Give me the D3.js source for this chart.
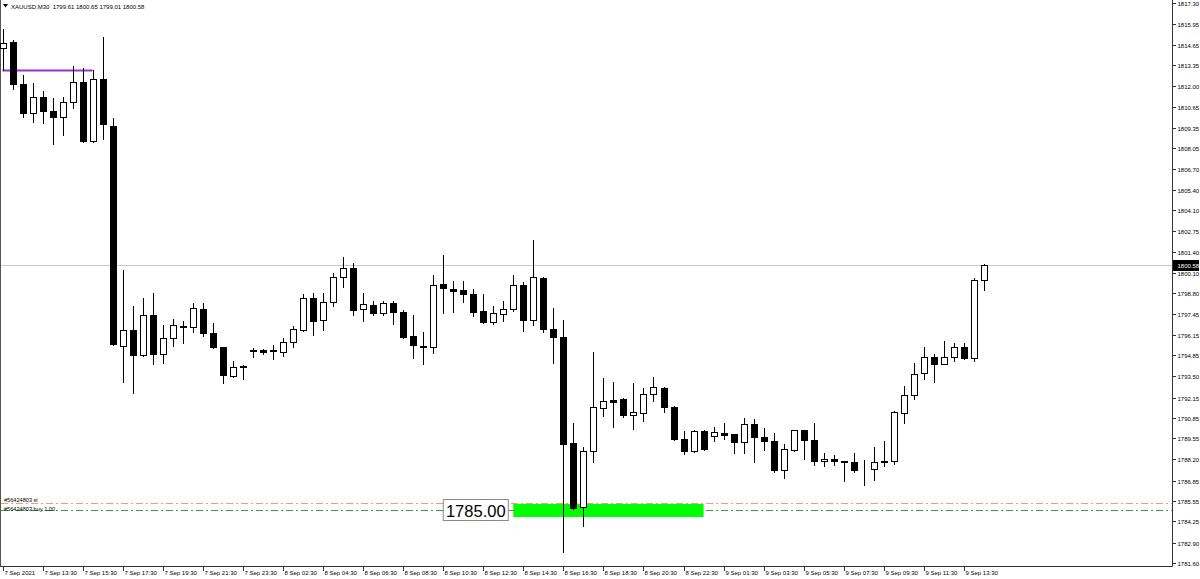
<!DOCTYPE html>
<html>
<head>
<meta charset="utf-8">
<script src="https://cdn.jsdelivr.net/npm/d3@7"></script>
<style>
  html, body { margin: 0; padding: 0; background: #fff; }
  svg { display: block; }
  text { font-family: "Liberation Sans", Arial, sans-serif; }
</style>
</head>
<body>
<div id="chart"></div>
<script>
const W = 1200, H = 579

// XAUUSD M30 bars, 7 Sep 2021 11:30 .. 9 Sep 2021 14:30
const OPEN = [1814.43,1814.81,1812.14,1810.29,1811.31,1810.41,1810.03,1810.99,1812.26,1808.50,
  1812.45,1809.46,1795.43,1796.45,1794.86,1797.41,1794.92,1795.94,1796.71,1796.64,
  1797.79,1796.26,1795.37,1793.52,1794.11,1795.14,1795.18,1795.14,1795.05,1795.69,
  1796.45,1798.49,1797.09,1798.24,1799.83,1800.41,1797.79,1798.05,1797.54,1798.17,
  1797.60,1796.07,1795.46,1795.37,1799.39,1799.07,1799.00,1798.75,1797.66,1796.96,
  1797.47,1797.79,1799.32,1797.09,1799.77,1796.52,1796.01,1789.25,1785.17,1788.74,
  1791.48,1791.96,1792.05,1791.03,1791.16,1792.37,1792.76,1791.54,1789.50,1788.74,
  1790.01,1789.70,1789.89,1789.82,1789.31,1790.46,1789.63,1789.38,1787.53,1788.80,
  1790.08,1789.44,1788.10,1788.23,1788.10,1788.04,1787.53,1787.59,1788.07,1788.10,
  1791.16,1792.28,1793.71,1794.73,1794.29,1794.73,1795.37,1794.67,1799.61]
const HIGH = [1815.64,1814.94,1812.71,1812.20,1811.69,1811.24,1811.31,1813.28,1813.16,1813.03,
  1815.13,1809.97,1800.28,1797.98,1798.49,1798.81,1796.77,1797.15,1797.03,1798.17,
  1798.17,1796.90,1795.40,1794.48,1794.22,1795.31,1795.24,1795.50,1795.94,1796.71,
  1798.75,1798.81,1798.81,1800.09,1801.11,1800.72,1798.81,1798.30,1798.30,1798.30,
  1797.73,1797.41,1796.33,1799.96,1801.23,1799.58,1799.58,1799.07,1798.75,1797.98,
  1798.30,1799.96,1799.51,1802.19,1799.83,1797.86,1797.09,1790.52,1788.99,1795.05,
  1793.39,1793.14,1792.09,1793.07,1792.76,1793.46,1792.82,1791.61,1790.01,1790.05,
  1790.05,1790.27,1790.52,1789.85,1790.84,1790.78,1790.21,1789.89,1789.19,1790.11,
  1790.11,1790.52,1788.61,1788.48,1788.12,1788.61,1788.17,1788.99,1789.38,1791.26,
  1792.88,1794.35,1795.37,1794.92,1795.75,1795.62,1795.62,1799.77,1800.65]
const LOW = [1813.03,1811.82,1810.03,1809.71,1809.65,1808.31,1808.88,1810.61,1808.44,1808.44,
  1808.63,1795.50,1793.14,1792.44,1794.80,1794.29,1794.35,1795.43,1795.62,1796.33,
  1796.07,1795.31,1793.07,1793.46,1793.33,1794.73,1794.92,1794.60,1794.80,1795.37,
  1796.39,1796.13,1796.45,1797.98,1799.19,1797.41,1797.03,1797.41,1797.41,1796.84,
  1795.94,1794.67,1794.29,1794.99,1797.54,1797.60,1798.24,1797.35,1796.90,1796.84,
  1797.03,1797.66,1796.39,1796.77,1796.33,1794.35,1782.30,1785.04,1783.96,1788.04,
  1790.97,1790.27,1790.91,1790.14,1790.65,1791.93,1791.23,1789.44,1788.55,1788.68,
  1788.80,1789.38,1789.50,1788.61,1788.61,1788.04,1788.80,1787.40,1787.02,1788.74,
  1788.23,1787.85,1787.78,1787.85,1786.83,1787.40,1786.57,1786.89,1787.78,1787.91,
  1790.52,1792.05,1793.33,1793.14,1794.26,1794.48,1794.60,1794.48,1799.01]
const CLOSE = [1814.75,1812.14,1810.29,1811.31,1810.41,1810.03,1810.99,1812.26,1808.50,1812.45,
  1809.59,1795.56,1796.45,1794.86,1797.41,1794.92,1795.94,1796.77,1796.64,1797.86,
  1796.26,1795.37,1793.58,1794.09,1794.13,1795.16,1795.05,1795.15,1795.69,1796.52,
  1798.49,1797.03,1798.24,1799.83,1800.41,1797.73,1798.11,1797.54,1798.17,1797.60,
  1796.01,1795.50,1795.37,1799.32,1799.13,1798.97,1798.75,1797.60,1796.96,1797.54,
  1797.79,1799.32,1797.09,1799.83,1796.52,1796.01,1789.19,1785.11,1788.74,1791.54,
  1791.93,1791.89,1791.03,1791.23,1792.37,1792.82,1791.54,1789.50,1788.74,1790.01,
  1788.87,1789.95,1789.76,1789.31,1790.46,1789.63,1789.38,1787.53,1788.87,1790.08,
  1789.44,1788.10,1788.23,1788.10,1788.05,1787.53,1787.55,1788.04,1788.10,1791.23,
  1792.31,1793.65,1794.73,1794.29,1794.73,1795.37,1794.67,1799.62,1800.58]

const PRICE_TICKS = [1817.30,1815.95,1814.65,1813.35,1812.00,1810.65,1809.35,1808.05,1806.70,
  1805.40,1804.10,1802.75,1801.40,1800.10,1798.80,1797.45,1796.15,1794.85,1793.50,1792.15,
  1790.85,1789.55,1788.20,1786.85,1785.55,1784.25,1782.90,1781.60]

const TIME_LABELS = ['7 Sep 2021','7 Sep 13:30','7 Sep 15:30','7 Sep 17:30','7 Sep 19:30',
  '7 Sep 21:30','7 Sep 23:30','8 Sep 02:30','8 Sep 04:30','8 Sep 06:30','8 Sep 08:30',
  '8 Sep 10:30','8 Sep 12:30','8 Sep 14:30','8 Sep 16:30','8 Sep 18:30','8 Sep 20:30',
  '8 Sep 22:30','9 Sep 01:30','9 Sep 03:30','9 Sep 05:30','9 Sep 07:30','9 Sep 09:30',
  '9 Sep 11:30','9 Sep 13:30']
const TIME_TICK_BARS = [0,4,8,12,16,20,24,28,32,36,40,44,48,52,56,60,64,68,72,76,80,84,88,92,96]

const TITLE = 'XAUUSD,M30  1799.61 1800.65 1799.01 1800.58'
const BID = 1800.58
const TREND_LEVEL = 1813.00, TREND_BARS = [0, 9]
const SL_LEVEL = 1785.42, SL_LABEL = '#56424803 sl'
const BUY_LEVEL = 1785.00, BUY_LABEL = '#56424803 buy 1.00'
const ZONE_TOP = 1785.36, ZONE_BOTTOM = 1784.53, ZONE_BARS = [51, 70]
const PRICE_BOX = '1785.00'

const bars = OPEN.map((o, i) => ({ i, o, h: HIGH[i], l: LOW[i], c: CLOSE[i] }))

const plotRight = 1172, plotBottom = 566

const x = d3.scaleLinear().domain([0, 98]).range([2.5, 984])
const y = d3.scaleLinear().domain([1781.60, 1817.30]).range([563, 3])
const px = v => Math.round(x(v)) + 0.5

const svg = d3.select('#chart').append('svg')
    .attr('width', W).attr('height', H)

// frame
svg.append('line').attr('x1', 0.5).attr('x2', 0.5).attr('y1', 0).attr('y2', plotBottom)
    .attr('stroke', '#555')
svg.append('line').attr('x1', 0).attr('x2', plotRight + 0.5).attr('y1', plotBottom + 0.5).attr('y2', plotBottom + 0.5)
    .attr('stroke', '#333')
svg.append('line').attr('x1', plotRight + 0.5).attr('x2', plotRight + 0.5).attr('y1', 0).attr('y2', plotBottom + 0.5)
    .attr('stroke', '#333')

// bid line
svg.append('line')
    .attr('x1', 1).attr('x2', plotRight)
    .attr('y1', Math.round(y(BID)) + 0.5).attr('y2', Math.round(y(BID)) + 0.5)
    .attr('stroke', '#c8c8c8')

// order lines
svg.append('line')
    .attr('x1', 1).attr('x2', plotRight)
    .attr('y1', Math.round(y(SL_LEVEL)) + 0.5).attr('y2', Math.round(y(SL_LEVEL)) + 0.5)
    .attr('stroke', '#fa9870').attr('stroke-dasharray', '7,3,2,3')
svg.append('line')
    .attr('x1', 1).attr('x2', plotRight)
    .attr('y1', Math.round(y(BUY_LEVEL)) + 0.5).attr('y2', Math.round(y(BUY_LEVEL)) + 0.5)
    .attr('stroke', '#3d9a3d').attr('stroke-dasharray', '7,3,2,3')

svg.append('text').attr('x', 4).attr('y', Math.round(y(SL_LEVEL)) - 1.5)
    .attr('font-size', 5.6).attr('fill', '#000').text(SL_LABEL)
svg.append('text').attr('x', 4).attr('y', Math.round(y(BUY_LEVEL)) + 0.5)
    .attr('font-size', 5.6).attr('fill', '#000').text(BUY_LABEL)

// zone rectangle
svg.append('rect')
    .attr('x', x(ZONE_BARS[0])).attr('width', x(ZONE_BARS[1]) - x(ZONE_BARS[0]))
    .attr('y', y(ZONE_TOP)).attr('height', y(ZONE_BOTTOM) - y(ZONE_TOP))
    .attr('fill', '#00ff00')

// price box label
const boxRight = x(ZONE_BARS[0]) - 5
svg.append('line')
    .attr('x1', boxRight).attr('x2', x(ZONE_BARS[0]))
    .attr('y1', Math.round(y(BUY_LEVEL)) + 0.5).attr('y2', Math.round(y(BUY_LEVEL)) + 0.5)
    .attr('stroke', '#777')
svg.append('rect')
    .attr('x', boxRight - 65).attr('y', Math.round(y(BUY_LEVEL)) - 10.5)
    .attr('width', 65).attr('height', 21)
    .attr('fill', '#fff').attr('stroke', '#8a8a8a')
svg.append('text')
    .attr('x', boxRight - 32.5).attr('y', Math.round(y(BUY_LEVEL)) + 6.5)
    .attr('text-anchor', 'middle').attr('font-size', 16.5).attr('fill', '#000')
    .text(PRICE_BOX)

// trend level
svg.append('line')
    .attr('x1', x(TREND_BARS[0])).attr('x2', x(TREND_BARS[1]))
    .attr('y1', y(TREND_LEVEL)).attr('y2', y(TREND_LEVEL))
    .attr('stroke', '#9932cc').attr('stroke-width', 2)

// candles
const g = svg.append('g').attr('shape-rendering', 'crispEdges')
const candle = g.selectAll('g.c').data(bars).join('g').attr('class', 'c')

candle.append('line')
    .attr('x1', d => px(d.i)).attr('x2', d => px(d.i))
    .attr('y1', d => Math.round(y(d.h))).attr('y2', d => Math.round(y(d.l)) + 1)
    .attr('stroke', '#000')

candle.append('rect')
    .attr('x', d => px(d.i) - 3)
    .attr('width', 6)
    .attr('y', d => Math.round(y(Math.max(d.o, d.c))) + 0.5)
    .attr('height', d => Math.max(0, Math.round(y(Math.min(d.o, d.c))) - Math.round(y(Math.max(d.o, d.c)))))
    .attr('fill', d => d.c >= d.o ? '#fff' : '#000')
    .attr('stroke', '#000')

// price axis
const pt = svg.append('g')
pt.selectAll('line').data(PRICE_TICKS).join('line')
    .attr('x1', plotRight).attr('x2', plotRight + 4)
    .attr('y1', d => Math.round(y(d)) + 0.5).attr('y2', d => Math.round(y(d)) + 0.5)
    .attr('stroke', '#333')
pt.selectAll('text').data(PRICE_TICKS).join('text')
    .attr('x', plotRight + 5.5).attr('y', d => Math.round(y(d)) + 2.5)
    .attr('font-size', 6).attr('fill', '#000')
    .text(d => d.toFixed(2))

// bid marker
svg.append('rect')
    .attr('x', plotRight + 1).attr('y', Math.round(y(BID)) - 5)
    .attr('width', W - plotRight - 2).attr('height', 11)
    .attr('fill', '#000')
svg.append('text')
    .attr('x', plotRight + 5.5).attr('y', Math.round(y(BID)) + 2.5)
    .attr('font-size', 6).attr('fill', '#fff').text(BID.toFixed(2))

// time axis
const tt = svg.append('g')
tt.selectAll('line').data(TIME_TICK_BARS).join('line')
    .attr('x1', d => px(d)).attr('x2', d => px(d))
    .attr('y1', plotBottom).attr('y2', plotBottom + 5)
    .attr('stroke', '#333')
tt.selectAll('text').data(TIME_LABELS).join('text')
    .attr('x', (d, k) => px(TIME_TICK_BARS[k]) + 1)
    .attr('y', plotBottom + 8.5)
    .attr('font-size', 6).attr('fill', '#000')
    .text(d => d)

// title
svg.append('path').attr('d', 'M3,4 L8,4 L5.5,7.5 Z').attr('fill', '#000')
svg.append('text').attr('x', 11).attr('y', 8.5)
    .attr('font-size', 6).attr('fill', '#000')
    .attr('xml:space', 'preserve').style('white-space', 'pre')
    .text(TITLE)
</script>
</body>
</html>
